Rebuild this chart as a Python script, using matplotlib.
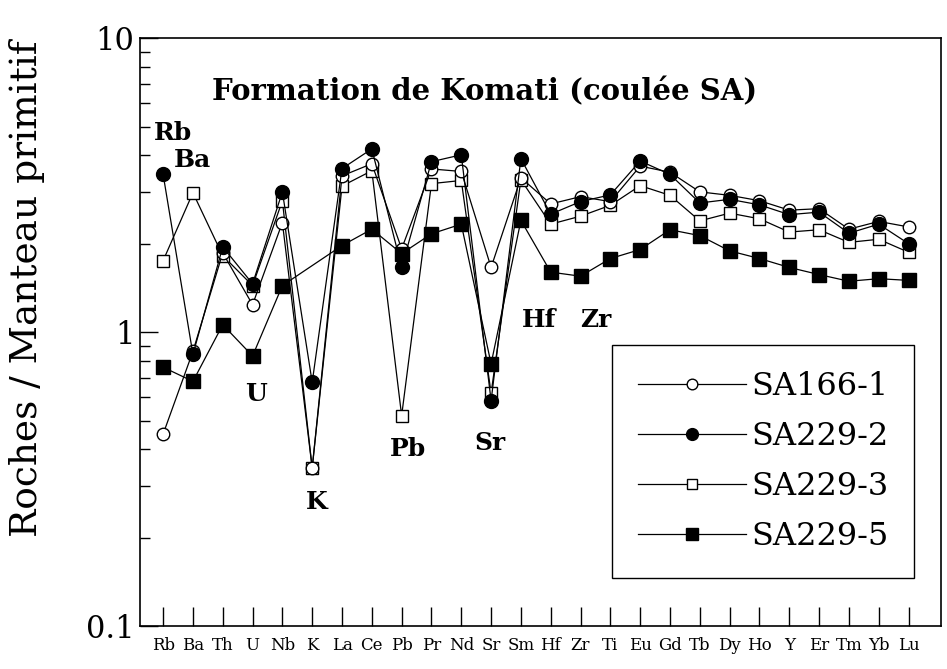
import matplotlib.pyplot as plt
import numpy as np

plt.rcParams['font.family'] = 'DejaVu Serif'

elements = ['Rb', 'Ba', 'Th', 'U', 'Nb', 'K', 'La', 'Ce', 'Pb', 'Pr', 'Nd', 'Sr', 'Sm',
            'Hf', 'Zr', 'Ti', 'Eu', 'Gd', 'Tb', 'Dy', 'Ho', 'Y', 'Er', 'Tm', 'Yb', 'Lu']

# normalised to primitive mantle
sa166_1 = [0.45, 0.86, 1.86, 1.24, 2.36, 0.345, 3.40, 3.74, 1.92, 3.59, 3.52, 1.66, 3.35,
           2.73, 2.89, 2.78, 3.67, 3.50, 3.00, 2.92, 2.80, 2.60, 2.63, 2.24, 2.38, 2.28]
sa229_2 = [3.44, 0.84, 1.95, 1.46, 3.00, 0.675, 3.60, 4.20, 1.66, 3.80, 4.01, 0.585, 3.89,
           2.52, 2.78, 2.93, 3.82, 3.44, 2.75, 2.83, 2.71, 2.51, 2.56, 2.17, 2.33, 2.00]
sa229_3 = [1.75, 2.98, 1.82, 1.44, 2.80, 0.345, 3.14, 3.54, 0.52, 3.20, 3.28, 0.62, 3.30,
           2.33, 2.48, 2.70, 3.15, 2.92, 2.39, 2.54, 2.43, 2.19, 2.23, 2.02, 2.07, 1.87]
sa229_5 = [0.76, 0.68, 1.06, 0.83, 1.44, np.nan, 1.97, 2.24, 1.85, 2.16, 2.33, 0.78, 2.40,
           1.60, 1.55, 1.78, 1.91, 2.23, 2.13, 1.89, 1.78, 1.66, 1.57, 1.49, 1.52, 1.50]

# element labels written inside the plot: (text, x index, value)
annotations = [('Rb', 0.33, 4.75), ('Ba', 1.0, 3.85), ('U', 3.1, 0.617), ('K', 5.15, 0.265),
               ('Pb', 8.2, 0.40), ('Sr', 10.95, 0.42), ('Hf', 12.6, 1.1), ('Zr', 14.5, 1.1)]

fig = plt.figure(figsize=(9.47, 6.69), dpi=100)
ax = fig.add_axes([0.148, 0.064, 0.846, 0.879])

x = np.arange(len(elements))
series = [
    ('SA166-1', sa166_1, dict(marker='o', mfc='white', ms=9), 4),
    ('SA229-2', sa229_2, dict(marker='o', mfc='black', ms=10), 5),
    ('SA229-3', sa229_3, dict(marker='s', mfc='white', ms=9), 3),
    ('SA229-5', sa229_5, dict(marker='s', mfc='black', ms=10.5), 6),
]
for name, vals, style, z in series:
    vals = np.array(vals, dtype=float)
    ok = ~np.isnan(vals)
    ax.plot(x[ok], vals[ok], color='black', lw=0.9, mec='black', mew=1.0,
            label=name, zorder=z, **style)

ax.set_yscale('log')
ax.set_ylim(0.1, 10)
ax.set_xlim(-0.77, 26.1)

ax.set_xticks(x)
ax.set_xticklabels(elements, fontsize=12)
ax.tick_params(axis='x', direction='in', length=14, width=1, pad=8, top=False)
ax.set_yticks([0.1, 1, 10])
ax.set_yticklabels(['0.1', '1', '10'], fontsize=22)
ax.tick_params(axis='y', which='major', direction='in', length=13, width=1, pad=4, right=False)
ax.tick_params(axis='y', which='minor', direction='in', length=7, width=1, right=False)
for s in ax.spines.values():
    s.set_linewidth(1.2)

fig.text(0.029, 0.569, 'Roches / Manteau primitif', rotation=90, fontsize=27,
         ha='center', va='center')

ax.text(0.43, 0.908, 'Formation de Komati (coulée SA)', transform=ax.transAxes,
        fontsize=21, fontweight='bold', ha='center', va='center')
for lab, xi, yv in annotations:
    ax.text(xi, yv, lab, fontsize=18, fontweight='bold', ha='center', va='center')

leg = ax.legend(loc='lower left', bbox_to_anchor=(0.589, 0.082), borderaxespad=0,
                fontsize=23, handlelength=3.4, handletextpad=0.15, labelspacing=0.6,
                borderpad=0.8, fancybox=False, framealpha=1, edgecolor='black',
                markerscale=0.85)
leg.get_frame().set_linewidth(1.0)

plt.savefig('out.png', dpi=100)
